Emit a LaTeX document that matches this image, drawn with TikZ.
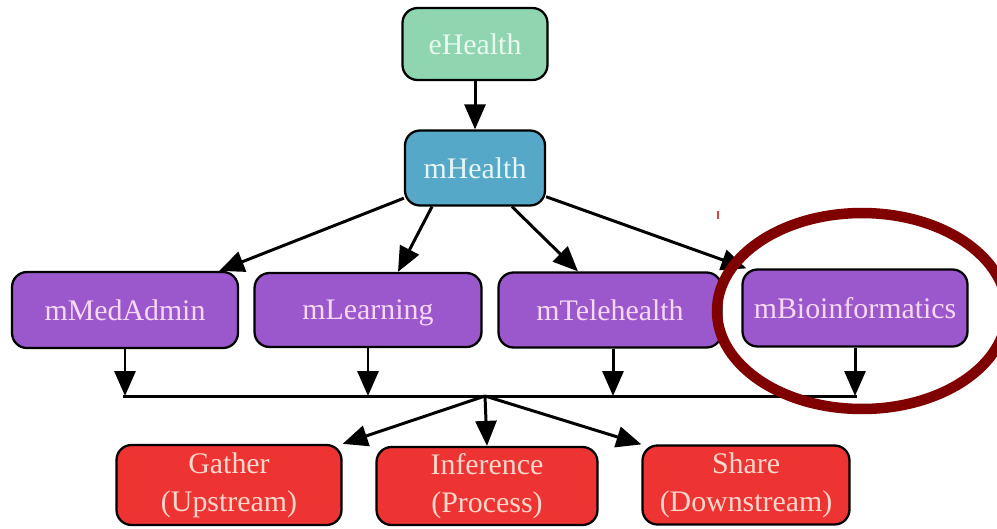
\documentclass[tikz,border=0pt]{standalone}
\usepackage{fontspec}
\setmainfont{Liberation Serif}
\usetikzlibrary{arrows.meta,calc}
\definecolor{ehfill}{HTML}{8FD6B0}
\definecolor{ehtext}{HTML}{EAF8F0}
\definecolor{mhfill}{HTML}{55A8C8}
\definecolor{mhtext}{HTML}{E4F6F6}
\definecolor{pfill}{HTML}{9B58CC}
\definecolor{ptext}{HTML}{F6D8F4}
\definecolor{rfill}{HTML}{EE3333}
\definecolor{rtext}{HTML}{FAD8CC}
\definecolor{ringred}{HTML}{800000}
\definecolor{tickred}{HTML}{C84848}
\begin{document}
\begin{tikzpicture}[x=0.02cm,y=-0.02cm,
  box/.style={draw=black,line width=1.3pt,rounded corners=0.3cm,inner sep=0pt,align=center,
    font=\fontsize{17}{21.5}\selectfont},
  ebox/.style={box,fill=ehfill,text=ehtext},
  mbox/.style={box,fill=mhfill,text=mhtext},
  pbox/.style={box,fill=pfill,text=ptext,text depth=-3pt},
  rbox/.style={box,fill=rfill,text=rtext},
  arr/.style={line width=1.7pt,-{Triangle[length=0.5cm,width=0.42cm]}},
  bus/.style={line width=1.7pt}]
\clip (0,0) rectangle (997,528);
\fill[white] (0,0) rectangle (997,528);
% nodes
\node[ebox,minimum width=2.9cm,minimum height=1.44cm] (eh) at (475,44) {eHealth};
\node[mbox,minimum width=2.8cm,minimum height=1.5cm] (mh) at (475,168) {mHealth};
\node[pbox,minimum width=4.52cm,minimum height=1.52cm] (mma) at (125,310) {mMedAdmin};
\node[pbox,minimum width=4.54cm,minimum height=1.48cm] (ml) at (368,310) {mLearning};
\node[pbox,minimum width=4.46cm,minimum height=1.5cm] (mt) at (610,310) {mTelehealth};
\node[pbox,minimum width=4.5cm,minimum height=1.54cm] (mb) at (855,308) {mBioinformatics};
\node[rbox,minimum width=4.5cm,minimum height=1.6cm] (ga) at (229,485) {Gather\\(Upstream)};
\node[rbox,minimum width=4.42cm,minimum height=1.56cm] (inf) at (487,486) {Inference\\(Process)};
\node[rbox,minimum width=4.14cm,minimum height=1.58cm] (sh) at (746,485) {Share\\(Downstream)};
\coordinate (j) at (485,396);
% connectors
\draw[arr] (eh) -- (mh);
\draw[arr] (mh.203) -- ($(mma.north east)+(-20,0)$);
\draw[arr] ($(mh.south)+(-43,0)$) -- ($(ml.north)+(30,0)$);
\draw[arr] ($(mh.south)+(37,0)$) -- ($(mt.north)+(-32,0)$);
\draw[arr] (mh.338) -- ($(mb.north west)+(5,0)$);
\draw[arr] (mma.south) -- (mma.south |- j);
\draw[arr] (ml.south) -- (ml.south |- j);
\draw[arr] ($(mt.south)+(3,0)$) -- ($(mt.south |- j)+(3,0)$);
\draw[arr] (mb.south) -- (mb.south |- j);
\draw[bus] ($(mma.south |- j)+(-2,0)$) -- ($(mb.south |- j)+(2,0)$);
\draw[arr] (j) -- (ga.north east);
\draw[arr] (j) -- (inf.north);
\draw[arr] (j) -- (sh.north west);
% highlight ring
\draw[ringred,line width=2.1mm] (862,311) ellipse [x radius=2.9cm, y radius=1.96cm];
\draw[tickred,line width=0.6pt] (718,211) -- (718,219);
\end{tikzpicture}
\end{document}
